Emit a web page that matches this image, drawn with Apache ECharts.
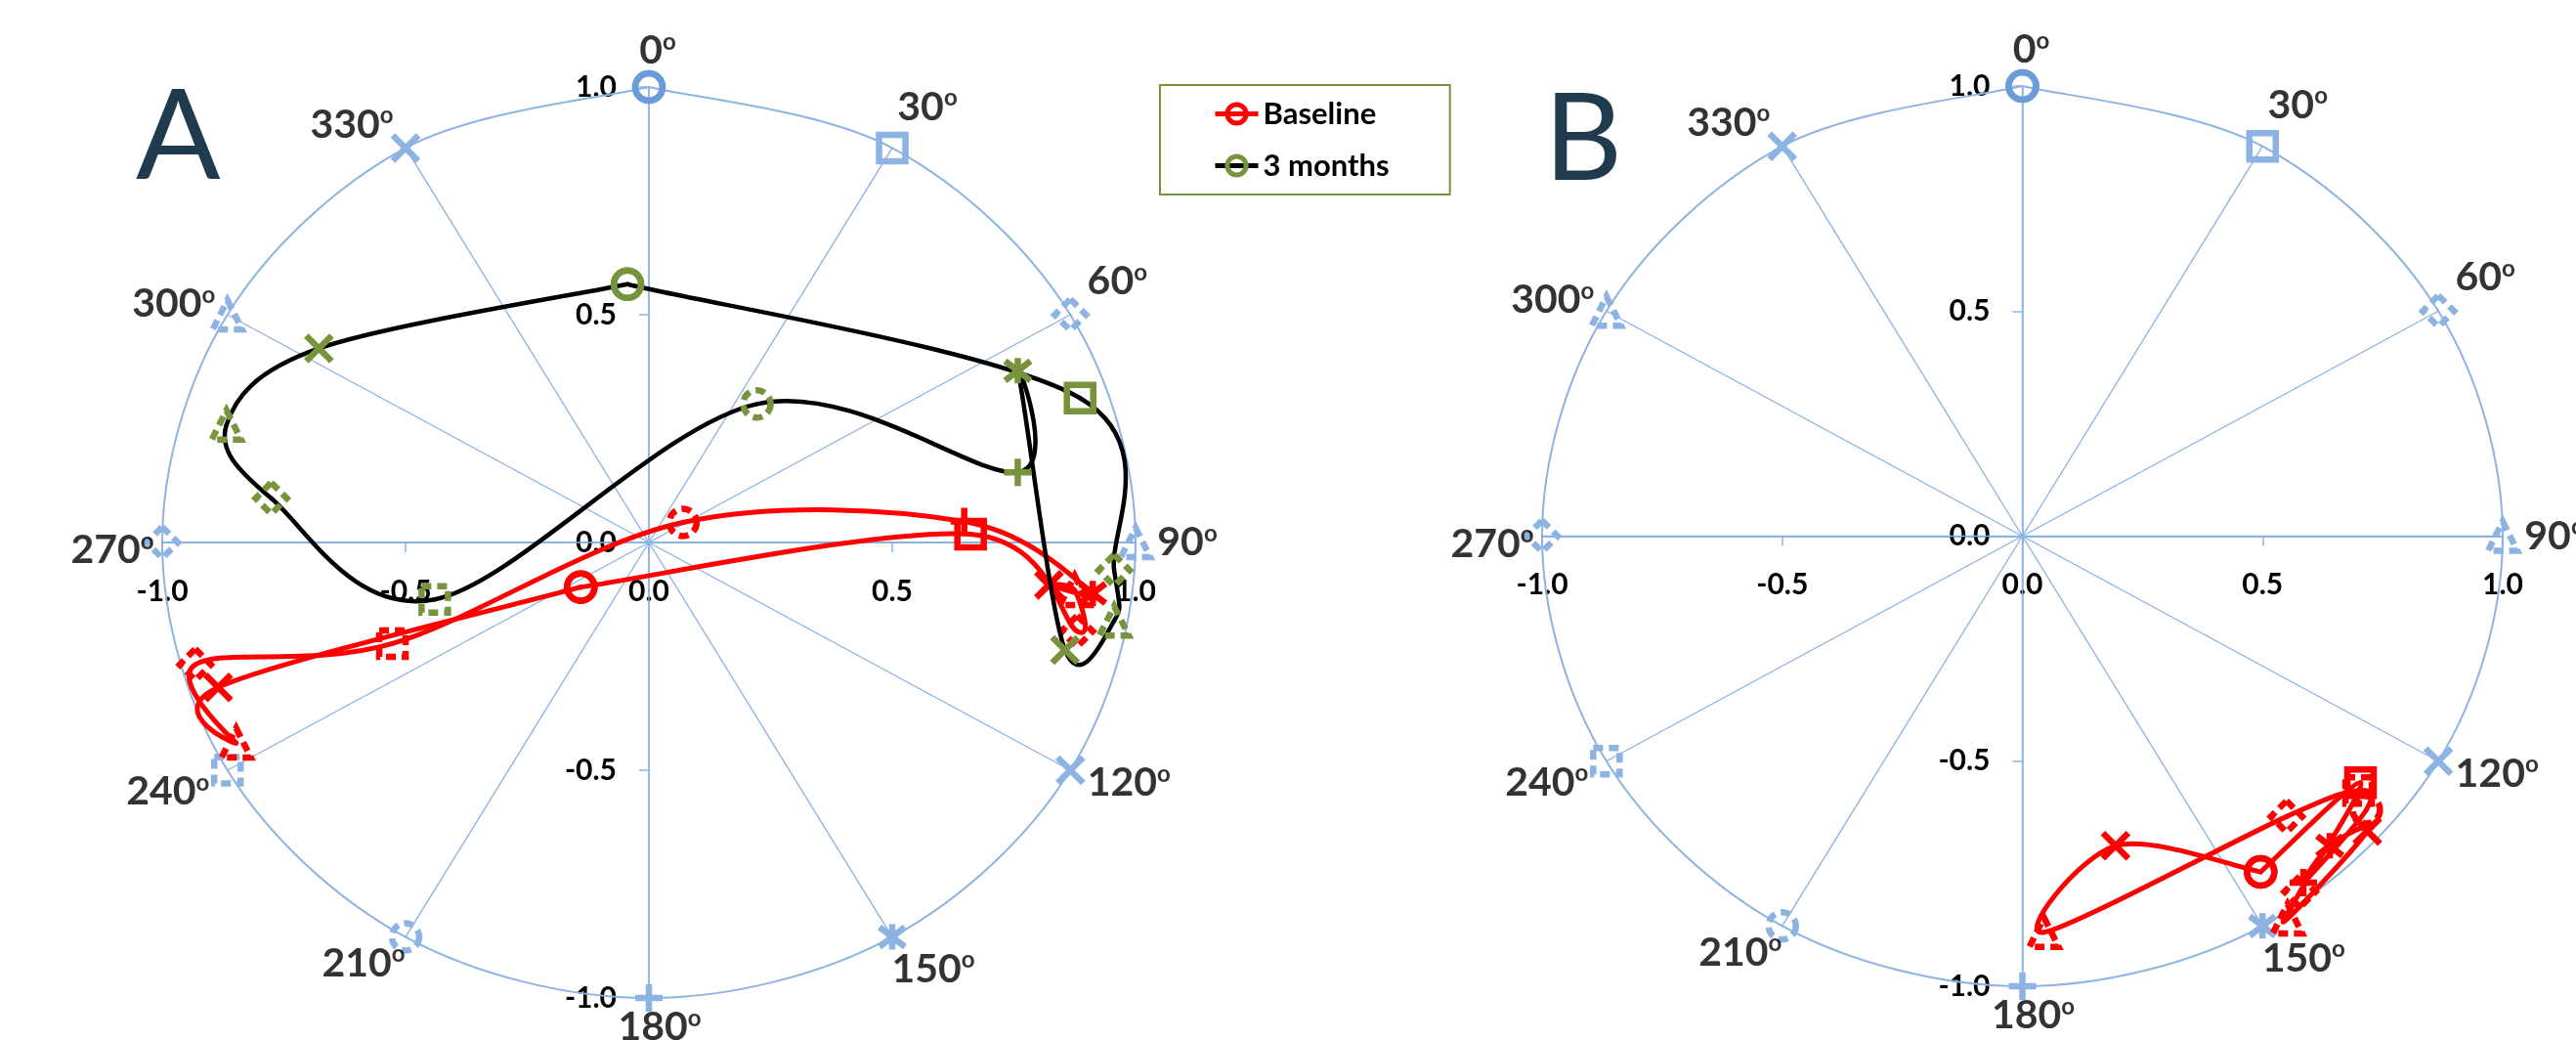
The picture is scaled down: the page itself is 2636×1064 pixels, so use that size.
<!DOCTYPE html>
<html>
<head>
<meta charset="utf-8">
<script src="https://cdn.jsdelivr.net/npm/echarts@6/dist/echarts.min.js"></script>
<style>
  html, body { margin: 0; padding: 0; background: #ffffff; }
  #chart { width: 2636px; height: 1064px; }
</style>
</head>
<body>
<div id="chart"></div>
<script>
// Directions (degrees, clockwise from the top) of the twelve measured positions
const ANGLES = [0, 30, 60, 90, 120, 150, 180, 210, 240, 270, 300, 330];

// Panel A – Baseline, one point per direction (x, y)
const A_BASE_X = [-0.140, 0.661, 0.880, 0.875, 0.822, 0.912, 0.648, 0.070, -0.527, -0.932, -0.848, -0.885];
const A_BASE_Y = [-0.098, 0.018, -0.195, -0.105, -0.093, -0.112, 0.046, 0.044, -0.222, -0.268, -0.440, -0.318];

// Panel A – 3 months
const A_M3_X = [-0.044, 0.886, 0.956, 0.956, 0.855, 0.758, 0.758, 0.222, -0.440, -0.776, -0.868, -0.678];
const A_M3_Y = [0.567, 0.317, -0.061, -0.172, -0.236, 0.377, 0.154, 0.304, -0.125, 0.097, 0.258, 0.426];

// Panel B – Baseline
const B_BASE_X = [0.496, 0.704, 0.578, 0.552, 0.718, 0.640, 0.585, 0.716, 0.700, 0.550, 0.045, 0.194];
const B_BASE_Y = [-0.746, -0.548, -0.790, -0.850, -0.655, -0.688, -0.770, -0.608, -0.565, -0.623, -0.880, -0.688];

// Axis range and tick step
const AXIS_MIN = -1.0;
const AXIS_MAX = 1.0;
const AXIS_STEP = 0.5;

// ---------- styling ----------
const BLUE = '#8DB3E2';
const BLUE_DARK = '#6C9CD8';
const RED = '#FF0000';
const OLIVE = '#77933C';
const FONT = 'Lato';

const GRIDS = [
  { left: 166, top: 89, width: 996, height: 932 },
  { left: 1578, top: 88, width: 983, height: 921 }
];

const X_PATH = 'path://M0,0L10,10M10,0L0,10';
const STAR_PATH = 'path://M0,0L10,10M10,0L0,10M5,-1.5L5,11.5';
const PLUS_PATH = 'path://M5,0L5,10M0,5L10,5';

// marker shape used for each direction
const MARKERS = [
  { symbol: 'circle', size: 28 },
  { symbol: 'rect', size: 27 },
  { symbol: 'diamond', size: 32, dashed: true },
  { symbol: 'triangle', size: 30, dashed: true },
  { symbol: X_PATH, size: 26 },
  { symbol: STAR_PATH, size: 26 },
  { symbol: PLUS_PATH, size: 28 },
  { symbol: 'circle', size: 28, dashed: true },
  { symbol: 'rect', size: 27, dashed: true },
  { symbol: 'diamond', size: 32, dashed: true },
  { symbol: 'triangle', size: 30, dashed: true },
  { symbol: X_PATH, size: 26 }
];

// degree-label placement around the unit circle (pixels)
const DEG_LABEL_OFFSET = [
  [9, -37], [36, -42], [48, -34], [53, 0], [60, 13], [42, 33],
  [11, 30], [-43, 27], [-61, 22], [-51, 8], [-55, -11], [-55, -24]
];

const rad = d => d * Math.PI / 180;
const close = arr => arr.concat([arr[0]]);

// unit circle through the twelve directions (and back to 0°)
const RING_X = close(ANGLES.map(a => Math.sin(rad(a))));
const RING_Y = close(ANGLES.map(a => Math.cos(rad(a))));

function markerItem(i, x, y, color) {
  const m = MARKERS[i % MARKERS.length];
  return {
    value: [x, y],
    symbol: m.symbol,
    symbolSize: m.size,
    itemStyle: {
      color: 'transparent',
      borderColor: color,
      borderWidth: 6.5,
      borderType: m.dashed ? [10, 6] : 'solid'
    }
  };
}

// markers at each direction; the series line itself is hidden, the
// smoothed curve is drawn by curveSeries
function markerSeries(name, g, xs, ys, lineColor, markColor, z, colorFn) {
  return {
    type: 'line', name: name, xAxisIndex: g, yAxisIndex: g, z: z,
    data: xs.map((x, i) => markerItem(i, x, ys[i], colorFn ? colorFn(i) : markColor)),
    showAllSymbol: true, symbol: 'circle', symbolSize: 16,
    lineStyle: { color: lineColor, width: 4.5, opacity: 0 },
    itemStyle: { color: 'transparent', borderColor: markColor, borderWidth: 4 },
    silent: true, emphasis: { disabled: true }
  };
}

// smoothed path through the points (cubic Bezier, tangents from the
// neighbouring points, 1/6 weight), computed in pixel space
function curveSeries(g, xs, ys, color, width, z) {
  const n = xs.length;
  return {
    type: 'custom', name: 'curve', coordinateSystem: 'cartesian2d',
    xAxisIndex: g, yAxisIndex: g, z: z, silent: true,
    data: xs.map((x, i) => [x, ys[i]]),
    renderItem: (params, api) => {
      const i = params.dataIndex;
      if (i >= n - 1) return null;
      const P = k => api.coord([xs[k], ys[k]]);
      const p0 = P(i), p1 = P(i + 1);
      const prev = i > 0 ? P(i - 1) : p0;
      const next = i + 2 < n ? P(i + 2) : p1;
      const k = 1 / 6;
      return {
        type: 'bezierCurve',
        shape: {
          x1: p0[0], y1: p0[1], x2: p1[0], y2: p1[1],
          cpx1: p0[0] + (p1[0] - prev[0]) * k, cpy1: p0[1] + (p1[1] - prev[1]) * k,
          cpx2: p1[0] - (next[0] - p0[0]) * k, cpy2: p1[1] - (next[1] - p0[1]) * k
        },
        style: { stroke: color, lineWidth: width, fill: 'none', lineCap: 'round', lineJoin: 'round' }
      };
    }
  };
}

function spokeSeries(g) {
  return ANGLES.map(a => ({
    type: 'line', name: 'spoke', xAxisIndex: g, yAxisIndex: g,
    data: [[0, 0], [Math.sin(rad(a)), Math.cos(rad(a))]],
    symbol: 'none', z: 1,
    lineStyle: { color: BLUE, width: 1.4 },
    silent: true, emphasis: { disabled: true }
  }));
}

function degreeLabelSeries(g) {
  return {
    type: 'scatter', name: 'deg', xAxisIndex: g, yAxisIndex: g, z: 9,
    symbol: 'circle', symbolSize: 1,
    itemStyle: { color: 'transparent' },
    silent: true, emphasis: { disabled: true },
    data: ANGLES.map((a, i) => ({
      value: [Math.sin(rad(a)), Math.cos(rad(a))],
      label: { offset: DEG_LABEL_OFFSET[i] }
    })),
    label: {
      show: true, position: 'inside',
      fontFamily: FONT, fontWeight: 'bold', fontSize: 41, color: '#000',
      formatter: p => '{n|' + ANGLES[p.dataIndex] + '}{s|o}',
      rich: {
        n: { fontFamily: FONT, fontWeight: 'bold', fontSize: 41, color: '#000', lineHeight: 42 },
        s: { fontFamily: FONT, fontWeight: 'bold', fontSize: 24, color: '#000', verticalAlign: 'top', lineHeight: 18 }
      }
    }
  };
}

function panelSeries(g) {
  return [
    curveSeries(g, RING_X, RING_Y, BLUE, 2, 2),
    markerSeries('ring', g, RING_X, RING_Y, BLUE, BLUE, 2, i => (i % 12 === 0 ? BLUE_DARK : BLUE))
  ];
}

function axisCommon(g) {
  return {
    gridIndex: g, type: 'value', min: AXIS_MIN, max: AXIS_MAX, interval: AXIS_STEP,
    splitLine: { show: false },
    axisTick: { show: true, length: 10, lineStyle: { color: BLUE, width: 1.5 } },
    axisLabel: {
      formatter: v => v.toFixed(1),
      fontFamily: FONT, fontWeight: 'bold', fontSize: 30, color: '#000'
    }
  };
}

// axes cross at the origin, in the middle of the symmetric range
function xAxisFor(g) {
  const a = axisCommon(g);
  a.position = 'bottom';
  a.offset = -GRIDS[g].height / 2;
  a.axisLine = { onZero: false, lineStyle: { color: BLUE, width: 2 } };
  a.axisLabel.margin = 35;
  return a;
}
function yAxisFor(g) {
  const a = axisCommon(g);
  a.position = 'left';
  a.offset = -GRIDS[g].width / 2;
  a.axisLine = { onZero: false, lineStyle: { color: BLUE, width: 1.5 } };
  a.axisLabel.margin = 33;
  return a;
}

const chart = echarts.init(document.getElementById('chart'), null, { renderer: 'canvas' });

chart.setOption({
  backgroundColor: '#ffffff',
  animation: false,
  grid: GRIDS,
  xAxis: [xAxisFor(0), xAxisFor(1)],
  yAxis: [yAxisFor(0), yAxisFor(1)],
  legend: {
    data: ['Baseline', '3 months'],
    orient: 'vertical', left: 1187, top: 87,
    padding: [14, 62, 14, 54], itemGap: 22, itemWidth: 44, itemHeight: 24,
    borderColor: OLIVE, borderWidth: 2, backgroundColor: '#ffffff',
    lineStyle: { width: 5, opacity: 1 },
    itemStyle: { borderWidth: 5 },
    textStyle: { fontFamily: FONT, fontWeight: 'bold', fontSize: 31, color: '#000' }
  },
  graphic: [
    { type: 'text', left: 139, top: 78, style: { text: 'A', font: 'normal 128px Lato', fill: '#1F3B4D' } },
    { type: 'text', left: 1580, top: 82, style: { text: 'B', font: 'normal 124px Lato', fill: '#1F3B4D' } }
  ],
  series: [].concat(
    spokeSeries(0), spokeSeries(1),
    panelSeries(0), panelSeries(1),
    [
      curveSeries(0, close(A_BASE_X), close(A_BASE_Y), RED, 5, 3),
      markerSeries('Baseline', 0, close(A_BASE_X), close(A_BASE_Y), RED, RED, 4),
      curveSeries(0, close(A_M3_X), close(A_M3_Y), '#000000', 4.5, 5),
      markerSeries('3 months', 0, close(A_M3_X), close(A_M3_Y), '#000000', OLIVE, 6),
      curveSeries(1, close(B_BASE_X), close(B_BASE_Y), RED, 5, 3),
      markerSeries('Baseline', 1, close(B_BASE_X), close(B_BASE_Y), RED, RED, 4)
    ],
    [degreeLabelSeries(0), degreeLabelSeries(1)]
  )
});
</script>
</body>
</html>
